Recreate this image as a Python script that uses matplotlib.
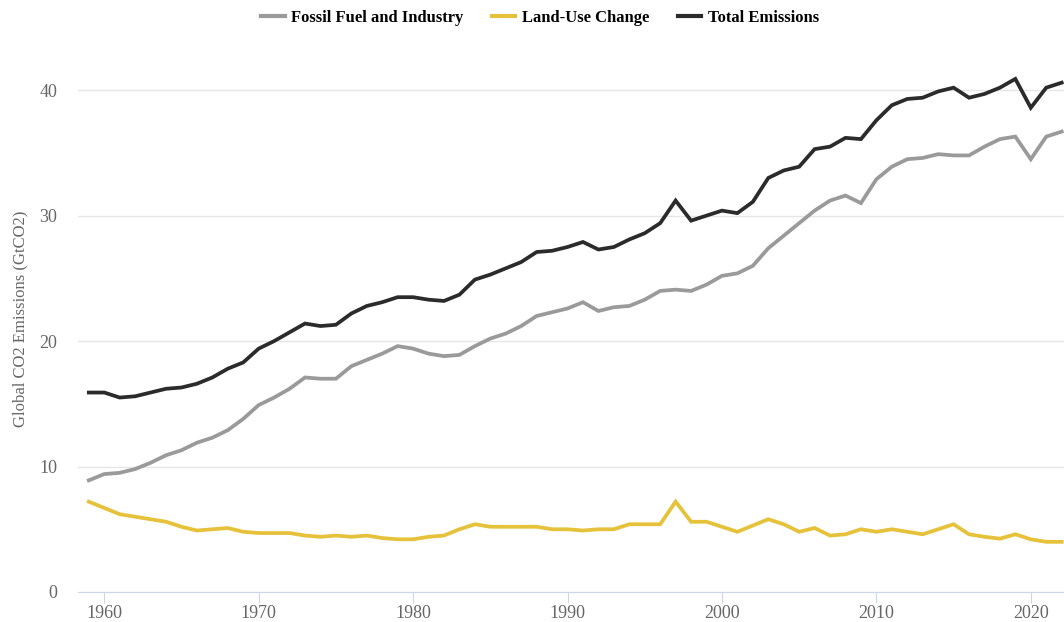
import matplotlib.pyplot as plt
from matplotlib.lines import Line2D

years = list(range(1959, 2023))

fossil = [8.9, 9.4, 9.5, 9.8, 10.3, 10.9, 11.3, 11.9, 12.3, 12.9,
          13.8, 14.9, 15.5, 16.2, 17.1, 17.0, 17.0, 18.0, 18.5, 19.0,
          19.6, 19.4, 19.0, 18.8, 18.9, 19.6, 20.2, 20.6, 21.2, 22.0,
          22.3, 22.6, 23.1, 22.4, 22.7, 22.8, 23.3, 24.0, 24.1, 24.0,
          24.5, 25.2, 25.4, 26.0, 27.4, 28.4, 29.4, 30.4, 31.2, 31.6,
          31.0, 32.9, 33.9, 34.5, 34.6, 34.9, 34.8, 34.8, 35.5, 36.1,
          36.3, 34.5, 36.3, 36.7]

land_use = [7.2, 6.7, 6.2, 6.0, 5.8, 5.6, 5.2, 4.9, 5.0, 5.1,
            4.8, 4.7, 4.7, 4.7, 4.5, 4.4, 4.5, 4.4, 4.5, 4.3,
            4.2, 4.2, 4.4, 4.5, 5.0, 5.4, 5.2, 5.2, 5.2, 5.2,
            5.0, 5.0, 4.9, 5.0, 5.0, 5.4, 5.4, 5.4, 7.2, 5.6,
            5.6, 5.2, 4.8, 5.3, 5.8, 5.4, 4.8, 5.1, 4.5, 4.6,
            5.0, 4.8, 5.0, 4.8, 4.6, 5.0, 5.4, 4.6, 4.4, 4.25,
            4.6, 4.2, 4.0, 4.0]

total = [15.9, 15.9, 15.5, 15.6, 15.9, 16.2, 16.3, 16.6, 17.1, 17.8,
         18.3, 19.4, 20.0, 20.7, 21.4, 21.2, 21.3, 22.2, 22.8, 23.1,
         23.5, 23.5, 23.3, 23.2, 23.7, 24.9, 25.3, 25.8, 26.3, 27.1,
         27.2, 27.5, 27.9, 27.3, 27.5, 28.1, 28.6, 29.4, 31.2, 29.6,
         30.0, 30.4, 30.2, 31.1, 33.0, 33.6, 33.9, 35.3, 35.5, 36.2,
         36.1, 37.6, 38.8, 39.3, 39.4, 39.9, 40.2, 39.4, 39.7, 40.2,
         40.9, 38.6, 40.2, 40.6]

series = [("Fossil Fuel and Industry", fossil, "#9a9a9a"),
          ("Land-Use Change", land_use, "#e6c13a"),
          ("Total Emissions", total, "#2b2b2b")]

plt.rcParams['font.family'] = ['Liberation Serif', 'DejaVu Serif']

fig = plt.figure(figsize=(10.64, 6.22), dpi=100)
ax = fig.add_axes([78 / 1064, 30 / 622, 986 / 1064, 552 / 622])

for name, vals, col in series:
    ax.plot(years, vals, color=col, linewidth=2.7, solid_joinstyle='miter')

ax.set_xlim(1958.3, 2022.15)
ax.set_ylim(0, 44)
ax.set_yticks([0, 10, 20, 30, 40])
ax.set_xticks(range(1960, 2030, 10))
ax.grid(axis='y', color='#e6e6e6', linewidth=1)
ax.set_axisbelow(True)
for s in ['top', 'right', 'left']:
    ax.spines[s].set_visible(False)
ax.spines['bottom'].set_color('#ccd6eb')
ax.tick_params(axis='y', length=0, pad=15, labelsize=13, labelcolor='#666666')
ax.tick_params(axis='x', length=8, color='#ccd6eb', pad=1, labelsize=13, labelcolor='#666666')
ax.set_ylabel("Global CO2 Emissions (GtCO2)", fontsize=12, color='#666666')
ax.yaxis.set_label_coords(-0.0507, 0.4946)

handles = [Line2D([], [], color=c, linewidth=3) for _, _, c in series]
fig.legend(handles, [n for n, _, _ in series], loc='center', bbox_to_anchor=(540 / 1064, 1 - 18 / 622),
           ncol=3, frameon=False, handlelength=1.4, columnspacing=1.7, handletextpad=0.4,
           prop={'weight': 'bold', 'size': 12})

fig.savefig("out.png", dpi=100)
